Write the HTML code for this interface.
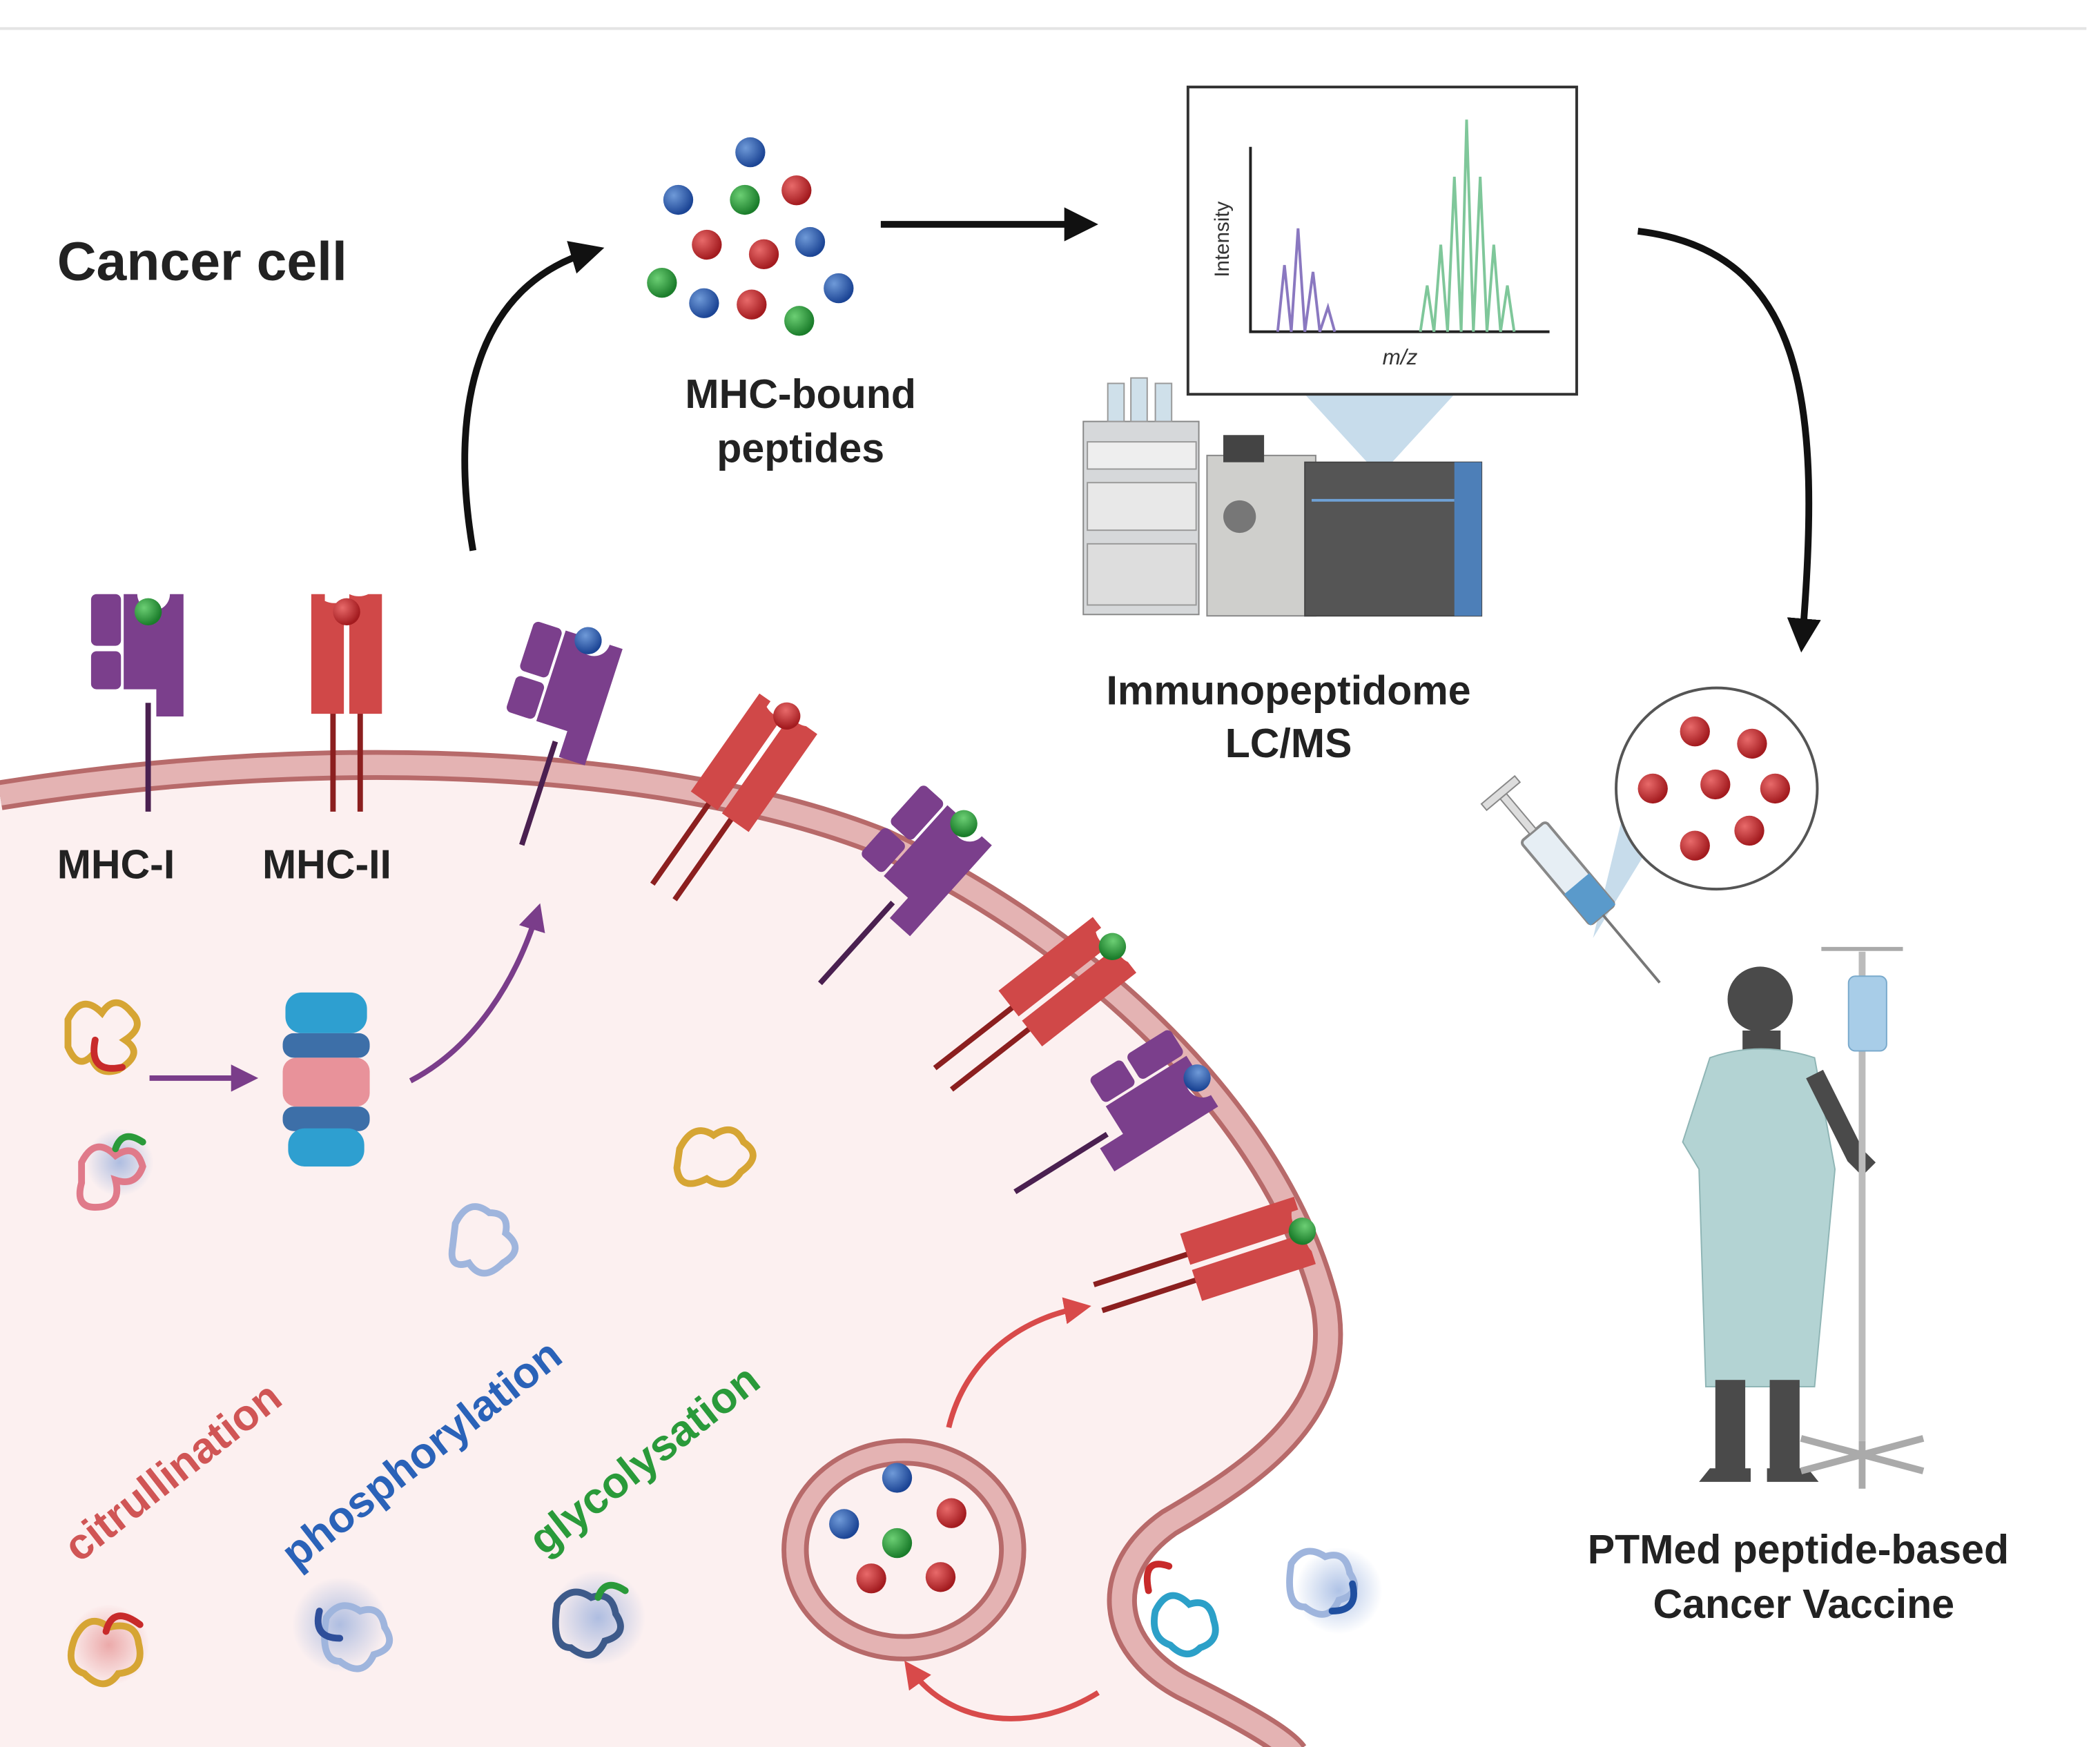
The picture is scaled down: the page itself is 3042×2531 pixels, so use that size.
<!DOCTYPE html>
<html><head><meta charset="utf-8"><style>
html,body{margin:0;padding:0;background:#fff;}
svg{display:block;}
text{font-family:"Liberation Sans",sans-serif;}
</style></head><body>
<svg width="3042" height="2531" viewBox="0 0 1545 1285" preserveAspectRatio="none" xmlns="http://www.w3.org/2000/svg">
<defs>
<radialGradient id="gb" cx="35%" cy="35%" r="65%"><stop offset="0" stop-color="#6f9ad8"/><stop offset="1" stop-color="#1c4595"/></radialGradient>
<radialGradient id="gr" cx="35%" cy="35%" r="65%"><stop offset="0" stop-color="#e86a6a"/><stop offset="1" stop-color="#a31b1f"/></radialGradient>
<radialGradient id="gg" cx="35%" cy="35%" r="65%"><stop offset="0" stop-color="#6ccf74"/><stop offset="1" stop-color="#1b7d2b"/></radialGradient>
<radialGradient id="glow" cx="50%" cy="50%" r="50%"><stop offset="0" stop-color="#7a9bd6" stop-opacity=".6"/><stop offset="1" stop-color="#7a9bd6" stop-opacity="0"/></radialGradient>
<radialGradient id="glowr" cx="50%" cy="50%" r="50%"><stop offset="0" stop-color="#e07a7a" stop-opacity=".6"/><stop offset="1" stop-color="#e07a7a" stop-opacity="0"/></radialGradient>
<marker id="ak" markerWidth="6" markerHeight="6" refX="3" refY="2.5" orient="auto" markerUnits="strokeWidth"><path d="M0,0 L5,2.5 L0,5 Z" fill="#111"/></marker>
<marker id="ap" markerWidth="5" markerHeight="5" refX="3" refY="2.5" orient="auto" markerUnits="strokeWidth"><path d="M0,0 L5,2.5 L0,5 Z" fill="#7a3d8a"/></marker>
<marker id="ar" markerWidth="5" markerHeight="5" refX="3" refY="2.5" orient="auto" markerUnits="strokeWidth"><path d="M0,0 L5,2.5 L0,5 Z" fill="#d84a4a"/></marker>
<g id="m1">
<line x1="14" y1="80" x2="14" y2="160" stroke="#4a2050" stroke-width="4"/>
<rect x="-28" y="0" width="22" height="38" rx="4" fill="#7b3f8c"/>
<rect x="-28" y="42" width="22" height="28" rx="4" fill="#7b3f8c"/>
<path d="M-4,0 h10 a12,12 0 0 0 24,0 h10 v90 h-20 v-20 h-24 z" fill="#7b3f8c"/>
</g>
<g id="m2">
<line x1="-10" y1="80" x2="-10" y2="160" stroke="#8b1f1f" stroke-width="4"/>
<line x1="10" y1="80" x2="10" y2="160" stroke="#8b1f1f" stroke-width="4"/>
<path d="M-26,0 h10 v5 a16,16 0 0 0 14,0 v-5 h0 v88 h-24 z" fill="#d04848"/>
<path d="M2,0 a16,16 0 0 0 14,0 h10 v88 h-24 z" fill="#d04848"/>
</g>
</defs>
<line x1="0" y1="21" x2="1535" y2="21" stroke="#e4e4e4" stroke-width="2"/>
<path d="M0,585 C250,545 500,560 650,620 C800,690 940,820 975,960 C990,1040 920,1085 860,1120 C810,1155 815,1210 870,1240 C920,1265 945,1280 952,1290 L0,1290 Z" fill="#fcf0f0"/>
<path d="M0,585 C250,545 500,560 650,620 C800,690 940,820 975,960 C990,1040 920,1085 860,1120 C810,1155 815,1210 870,1240 C920,1265 945,1280 952,1290" fill="none" stroke="#b76a6a" stroke-width="22"/>
<path d="M0,585 C250,545 500,560 650,620 C800,690 940,820 975,960 C990,1040 920,1085 860,1120 C810,1155 815,1210 870,1240 C920,1265 945,1280 952,1290" fill="none" stroke="#e4b3b3" stroke-width="15"/>
<text x="42" y="206" font-size="40" font-weight="bold" fill="#222">Cancer cell</text>
<use href="#m1" x="95" y="437"/>
<circle cx="109" cy="450" r="10" fill="url(#gg)"/>
<use href="#m2" x="255" y="437"/>
<circle cx="255" cy="450" r="10" fill="url(#gr)"/>
<text x="42" y="646" font-size="30" font-weight="bold" fill="#222">MHC-I</text>
<text x="193" y="646" font-size="30" font-weight="bold" fill="#222">MHC-II</text>
<g transform="translate(420,465) rotate(18)"><use href="#m1"/><circle cx="14" cy="2" r="10" fill="url(#gb)"/></g>
<g transform="translate(580,525) rotate(35)"><use href="#m2"/><circle cx="0" cy="2" r="10" fill="url(#gr)"/></g>
<g transform="translate(700,595) rotate(42)"><use href="#m1"/><circle cx="14" cy="2" r="10" fill="url(#gg)"/></g>
<g transform="translate(820,695) rotate(52)"><use href="#m2"/><circle cx="0" cy="2" r="10" fill="url(#gg)"/></g>
<g transform="translate(875,780) rotate(58)"><use href="#m1"/><circle cx="14" cy="2" r="10" fill="url(#gb)"/></g>
<g transform="translate(960,905) rotate(72)"><use href="#m2"/><circle cx="0" cy="2" r="10" fill="url(#gg)"/></g>
<g>
<circle cx="552" cy="112" r="11" fill="url(#gb)"/><circle cx="499" cy="147" r="11" fill="url(#gb)"/>
<circle cx="548" cy="147" r="11" fill="url(#gg)"/><circle cx="586" cy="140" r="11" fill="url(#gr)"/>
<circle cx="520" cy="180" r="11" fill="url(#gr)"/><circle cx="562" cy="187" r="11" fill="url(#gr)"/>
<circle cx="596" cy="178" r="11" fill="url(#gb)"/><circle cx="487" cy="208" r="11" fill="url(#gg)"/>
<circle cx="518" cy="223" r="11" fill="url(#gb)"/><circle cx="553" cy="224" r="11" fill="url(#gr)"/>
<circle cx="588" cy="236" r="11" fill="url(#gg)"/><circle cx="617" cy="212" r="11" fill="url(#gb)"/>
</g>
<text x="589" y="300" font-size="30" font-weight="bold" fill="#222" text-anchor="middle">MHC-bound</text>
<text x="589" y="340" font-size="30" font-weight="bold" fill="#222" text-anchor="middle">peptides</text>
<path d="M348,405 C330,300 350,210 435,185" fill="none" stroke="#111" stroke-width="5" marker-end="url(#ak)"/>
<path d="M648,165 L798,165" fill="none" stroke="#111" stroke-width="5" marker-end="url(#ak)"/>
<path d="M1205,170 C1330,185 1340,300 1326,470" fill="none" stroke="#111" stroke-width="5" marker-end="url(#ak)"/>
<polygon points="960,290 1070,290 1015,350" fill="#b9d3e6" opacity=".8"/>
<rect x="874" y="64" width="286" height="226" fill="#fff" stroke="#333" stroke-width="2"/>
<path d="M920,108 V244 H1140" fill="none" stroke="#222" stroke-width="2"/>
<text x="904" y="176" font-size="15" fill="#333" transform="rotate(-90 904 176)" text-anchor="middle">Intensity</text>
<text x="1030" y="268" font-size="16" font-style="italic" fill="#333" text-anchor="middle">m/z</text>
<path d="M940,244 L945,195 L950,244 L955,168 L960,244 L966,200 L971,244 L977,226 L982,244" fill="none" stroke="#8a78c0" stroke-width="2"/>
<path d="M1045,244 L1050,210 L1055,244 L1060,180 L1065,244 L1070,130 L1075,244 L1079,88 L1084,244 L1089,130 L1094,244 L1099,180 L1104,244 L1109,210 L1114,244" fill="none" stroke="#7fc79a" stroke-width="2"/>
<rect x="797" y="310" width="85" height="142" fill="#d6d8da" stroke="#888"/>
<rect x="800" y="325" width="80" height="20" fill="#eee" stroke="#999"/>
<rect x="800" y="355" width="80" height="35" fill="#e8e8e8" stroke="#999"/>
<rect x="800" y="400" width="80" height="45" fill="#ddd" stroke="#999"/>
<rect x="815" y="282" width="12" height="28" fill="#cfe0ea" stroke="#999"/><rect x="832" y="278" width="12" height="32" fill="#cfe0ea" stroke="#999"/><rect x="850" y="282" width="12" height="28" fill="#cfe0ea" stroke="#999"/>
<rect x="888" y="335" width="80" height="118" fill="#cfcfcc" stroke="#888"/>
<rect x="900" y="320" width="30" height="20" fill="#444"/>
<circle cx="912" cy="380" r="12" fill="#777"/>
<rect x="960" y="340" width="130" height="113" fill="#555" stroke="#444"/>
<line x1="965" y1="368" x2="1070" y2="368" stroke="#6fa1d6" stroke-width="2"/>
<rect x="1070" y="340" width="20" height="113" fill="#4d7fb8"/>
<text x="948" y="518" font-size="30" font-weight="bold" fill="#222" text-anchor="middle">Immunopeptidome</text>
<text x="948" y="557" font-size="30" font-weight="bold" fill="#222" text-anchor="middle">LC/MS</text>
<polygon points="1195,595 1215,620 1172,690" fill="#b9d3e6" opacity=".8"/>
<circle cx="1263" cy="580" r="74" fill="#fff" stroke="#555" stroke-width="2"/>
<circle cx="1247" cy="538" r="11" fill="url(#gr)"/><circle cx="1289" cy="547" r="11" fill="url(#gr)"/>
<circle cx="1216" cy="580" r="11" fill="url(#gr)"/><circle cx="1262" cy="577" r="11" fill="url(#gr)"/>
<circle cx="1306" cy="580" r="11" fill="url(#gr)"/><circle cx="1247" cy="622" r="11" fill="url(#gr)"/>
<circle cx="1287" cy="611" r="11" fill="url(#gr)"/>
<g transform="translate(1160,650) rotate(-40)">
<rect x="-12" y="-50" width="24" height="80" rx="3" fill="#e6eef4" stroke="#888" stroke-width="2"/>
<rect x="-12" y="0" width="24" height="30" fill="#5a9acb"/>
<rect x="-3" y="-85" width="6" height="35" fill="#ddd" stroke="#888"/>
<rect x="-16" y="-90" width="32" height="6" fill="#ddd" stroke="#888"/>
<line x1="0" y1="30" x2="0" y2="95" stroke="#777" stroke-width="2"/>
</g>
<circle cx="1295" cy="735" r="24" fill="#4a4a4a"/>
<path d="M1282,758 h28 v20 h-28 z" fill="#4a4a4a"/>
<path d="M1258,778 Q1295,765 1335,778 L1350,860 L1335,1020 L1255,1020 L1250,860 L1238,840 Z" fill="#b3d3d3" stroke="#8fb5b5"/>
<rect x="1262" y="1015" width="22" height="70" fill="#4a4a4a"/><rect x="1302" y="1015" width="22" height="70" fill="#4a4a4a"/>
<path d="M1258,1080 h30 v10 h-38z M1300,1080 h30 l8,10 h-38z" fill="#4a4a4a"/>
<path d="M1335,790 L1365,850 L1375,860" stroke="#4a4a4a" stroke-width="14" fill="none"/>
<line x1="1370" y1="700" x2="1370" y2="1060" stroke="#bbb" stroke-width="5"/>
<path d="M1340,698 h60" stroke="#aaa" stroke-width="3"/>
<rect x="1360" y="718" width="28" height="55" rx="5" fill="#a8cde8" stroke="#7aaacc"/>
<path d="M1325,1058 L1415,1082 M1415,1058 L1325,1082 M1370,1060 L1370,1095" stroke="#aaa" stroke-width="5"/>
<text x="1323" y="1150" font-size="30" font-weight="bold" fill="#222" text-anchor="middle">PTMed peptide-based</text>
<text x="1327" y="1190" font-size="30" font-weight="bold" fill="#222" text-anchor="middle">Cancer Vaccine</text>
<g>
<rect x="210" y="730" width="60" height="30" rx="12" fill="#2e9fd0"/>
<rect x="208" y="760" width="64" height="18" rx="8" fill="#3d6fa8"/>
<rect x="208" y="778" width="64" height="36" rx="10" fill="#e8929a"/>
<rect x="208" y="814" width="64" height="18" rx="8" fill="#3d6fa8"/>
<rect x="212" y="830" width="56" height="28" rx="12" fill="#2e9fd0"/>
</g>
<path d="M110,793 L182,793" stroke="#7a3d8a" stroke-width="4" marker-end="url(#ap)"/>
<path d="M302,795 C350,770 380,720 395,672" fill="none" stroke="#7a3d8a" stroke-width="4" marker-end="url(#ap)"/>
<g fill="none" stroke-width="5" stroke-linecap="round">
<path d="M50,750 q10,-20 25,-5 q10,-15 22,0 q10,10 -5,20 q15,10 -5,22 q-15,5 -20,-10 q-10,10 -17,-7 z" stroke="#d6a534"/>
<path d="M70,765 q-5,25 20,20" stroke="#c82a2a"/>
<circle cx="88" cy="855" r="25" fill="url(#glow)" stroke="none"/>
<path d="M60,855 q10,-20 25,-5 q15,-10 20,8 q-5,15 -20,10 q5,20 -15,20 q-15,0 -10,-18 z" stroke="#e07a8a"/>
<path d="M85,845 q5,-15 20,-5" stroke="#2a9a3a"/>
<path d="M500,845 q10,-20 25,-10 q15,-10 22,5 q15,10 -2,22 q-10,15 -25,5 q-20,10 -22,-8 z" stroke="#d6a534"/>
<path d="M335,900 q10,-20 25,-8 q15,0 12,15 q15,12 -2,22 q-15,15 -25,0 q-15,5 -12,-12 z" stroke="#9fb5dd"/>
<circle cx="80" cy="1210" r="30" fill="url(#glowr)" stroke="none"/>
<path d="M55,1205 q10,-20 25,-8 q20,-5 22,12 q5,20 -15,22 q-10,15 -25,0 q-15,-5 -7,-26 z" stroke="#d6a534"/>
<path d="M78,1200 q5,-20 25,-5" stroke="#c82a2a"/>
<circle cx="250" cy="1195" r="35" fill="url(#glow)" stroke="none"/>
<path d="M240,1190 q10,-15 25,-5 q15,-5 18,12 q10,15 -8,20 q-8,18 -25,5 q-15,0 -10,-32 z" stroke="#9fb5dd"/>
<path d="M235,1185 q-5,20 15,20" stroke="#2f4f9a"/>
<circle cx="440" cy="1190" r="35" fill="url(#glow)" stroke="none"/>
<path d="M410,1180 q10,-15 25,-5 q15,-5 18,12 q10,15 -8,20 q-8,18 -25,5 q-15,0 -10,-32 z" stroke="#3d5a8a"/>
<path d="M440,1175 q5,-15 20,-5" stroke="#2a9a3a"/>
<path d="M845,1170 q-5,-25 15,-18" stroke="#c82a2a"/>
<path d="M850,1185 q10,-20 25,-5 q15,-5 18,12 q5,15 -10,20 q-10,10 -22,-2 q-15,-5 -11,-25 z" stroke="#2ca0c8"/>
<circle cx="985" cy="1170" r="32" fill="url(#glow)" stroke="none"/>
<path d="M950,1150 q10,-15 25,-5 q15,-5 18,12 q10,15 -8,20 q-8,18 -25,5 q-15,0 -10,-32 z" stroke="#9fb5dd"/>
<path d="M995,1165 q5,20 -15,20" stroke="#1f4fa0"/>
</g>
<text x="0" y="0" font-size="32" font-weight="bold" fill="#d05555" transform="translate(58,1150) rotate(-38)">citrullination</text>
<text x="0" y="0" font-size="32" font-weight="bold" fill="#2a62b8" transform="translate(218,1155) rotate(-38)">phosphorylation</text>
<text x="0" y="0" font-size="32" font-weight="bold" fill="#2a9a3a" transform="translate(400,1145) rotate(-38)">glycolysation</text>
<ellipse cx="665" cy="1140" rx="80" ry="72" fill="#fcf0f0" stroke="#b76a6a" stroke-width="20"/>
<ellipse cx="665" cy="1140" rx="80" ry="72" fill="none" stroke="#e4b3b3" stroke-width="13"/>
<circle cx="660" cy="1087" r="11" fill="url(#gb)"/><circle cx="621" cy="1121" r="11" fill="url(#gb)"/>
<circle cx="700" cy="1113" r="11" fill="url(#gr)"/><circle cx="660" cy="1135" r="11" fill="url(#gg)"/>
<circle cx="641" cy="1161" r="11" fill="url(#gr)"/><circle cx="692" cy="1160" r="11" fill="url(#gr)"/>
<path d="M698,1050 C710,1000 750,970 795,962" fill="none" stroke="#d84a4a" stroke-width="4" marker-end="url(#ar)"/>
<path d="M808,1245 C760,1275 700,1270 670,1228" fill="none" stroke="#d84a4a" stroke-width="4" marker-end="url(#ar)"/>
</svg>
</body></html>
